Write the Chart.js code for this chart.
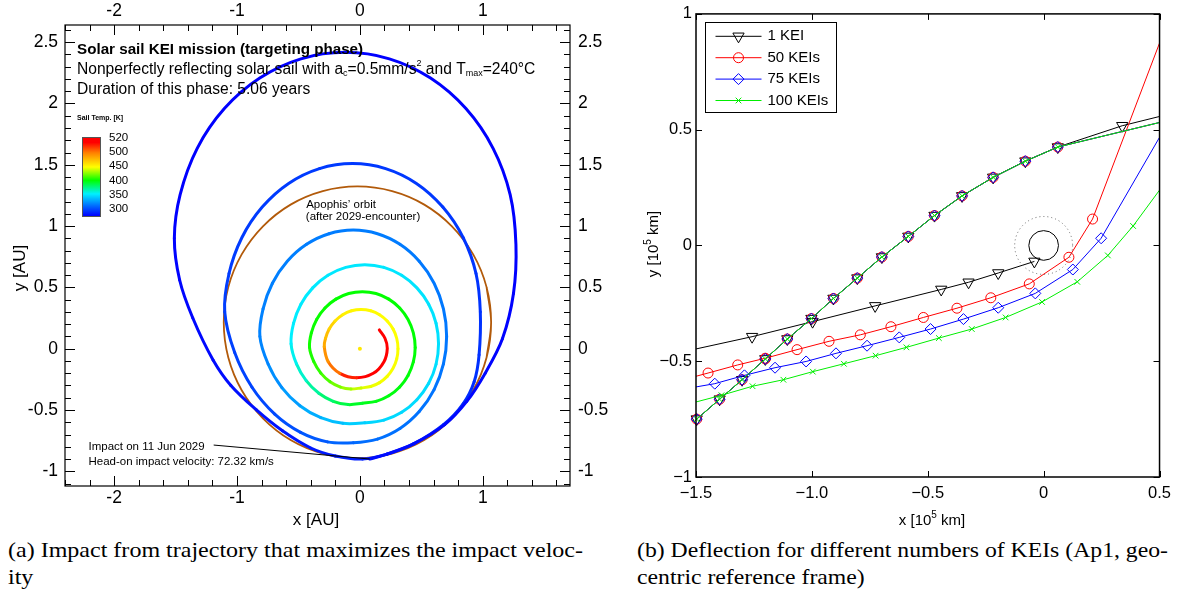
<!DOCTYPE html>
<html>
<head>
<meta charset="utf-8">
<script src="https://cdn.jsdelivr.net/npm/chart.js@4.4.1/dist/chart.umd.min.js"></script>
<style>
  html, body { margin: 0; padding: 0; background: #fff; }
  body { width: 1178px; height: 593px; position: relative; overflow: hidden; }
  .panel { position: absolute; top: 0; }
  #sailWrap { left: 0; }
  #deflWrap { left: 640px; }
  .caption { position: absolute; font-family: 'Liberation Serif', 'Times New Roman', serif; font-size: 21px; line-height: 27px; color: #000; white-space: nowrap; transform-origin: 0 0; }
</style>
</head>
<body>
<div class="panel" id="sailWrap"><canvas id="sailChart" width="610" height="535"></canvas></div>
<div class="panel" id="deflWrap"><canvas id="deflChart" width="538" height="535"></canvas></div>
<div class="caption" data-w="575" style="left:8px; top:537px;"><span>(a) Impact from trajectory that maximizes the impact veloc-</span><br>ity</div>
<div class="caption" data-w="531" style="left:637px; top:537px;"><span>(b) Deflection for different numbers of KEIs (Ap1, geo-</span><br>centric reference frame)</div>
<script>
const FONT = "'Liberation Sans', Arial, Helvetica, sans-serif";

// ---- (a) targeting phase trajectory [AU] and sail temperature [K] ----
// red start, then yellow, green, cyan, light blue, blue loops and the final arc to impact
const trajX = [0.158, 0.204, 0.223, 0.196, 0.109, -0.027, -0.163, -0.258, -0.29,
  -0.28, -0.25, -0.202, -0.14, -0.068, 0.01, 0.088, 0.16, 0.222, 0.27, 0.30, 0.31, 0.30, 0.27, 0.222, 0.16, 0.088, 0.01,
  -0.072, -0.158, -0.243, -0.318, -0.376,
  -0.41, -0.395, -0.352, -0.284, -0.195, -0.091, 0.02, 0.131, 0.235, 0.324, 0.392, 0.435, 0.45, 0.435, 0.392, 0.324, 0.235, 0.131, 0.02,
  -0.095, -0.217, -0.334, -0.437, -0.516,
  -0.56, -0.54, -0.48, -0.384, -0.26, -0.115, 0.04, 0.195, 0.34, 0.464, 0.56, 0.62, 0.64, 0.62, 0.56, 0.464, 0.34, 0.195, 0.04,
  -0.138, -0.318, -0.488, -0.635, -0.747,
  -0.814, -0.788, -0.712, -0.591, -0.434, -0.251, -0.054, 0.143, 0.326, 0.483, 0.604, 0.68, 0.706, 0.68, 0.604, 0.483, 0.326, 0.143, -0.054,
  -0.264, -0.483, -0.693, -0.878, -1.019,
  -1.10, -1.065, -0.961, -0.795, -0.58, -0.329, -0.06, 0.209, 0.46, 0.675, 0.841, 0.945, 0.98,
  0.97, 0.93, 0.84, 0.68, 0.44, 0.22, 0.02,
  -0.2, -0.4, -0.63, -0.842, -1.05, -1.195, -1.36, -1.467, -1.51, -1.463, -1.324, -1.103, -0.815, -0.48, -0.12,
  0.24, 0.575, 0.863, 1.084, 1.223, 1.27, 1.25, 1.16, 1.02, 0.87, 0.69, 0.44, 0.22, 0.08];
const trajY = [0.153, 0.085, 0.003, -0.106, -0.201, -0.237, -0.201, -0.106, 0.016,
  0.083, 0.16, 0.226, 0.277, 0.309, 0.32, 0.309, 0.277, 0.226, 0.16, 0.083, 0.0, -0.083, -0.16, -0.226, -0.277, -0.309, -0.32,
  -0.329, -0.313, -0.269, -0.199, -0.104,
  0.01, 0.128, 0.238, 0.332, 0.404, 0.45, 0.465, 0.45, 0.404, 0.332, 0.238, 0.128, 0.01, -0.108, -0.218, -0.312, -0.384, -0.43, -0.445,
  -0.456, -0.429, -0.364, -0.261, -0.124,
  0.04, 0.207, 0.3625, 0.496, 0.599, 0.663, 0.685, 0.663, 0.599, 0.496, 0.3625, 0.207, 0.04, -0.127, -0.2825, -0.416, -0.519, -0.583, -0.605,
  -0.609, -0.563, -0.465, -0.317, -0.125,
  0.1, 0.3245, 0.5335, 0.713, 0.851, 0.9375, 0.967, 0.9375, 0.851, 0.713, 0.5335, 0.3245, 0.1, -0.1245, -0.3335, -0.513, -0.651, -0.7375, -0.767,
  -0.76, -0.683, -0.534, -0.315, -0.032,
  0.30, 0.613, 0.905, 1.155, 1.348, 1.469, 1.51, 1.469, 1.348, 1.155, 0.905, 0.613, 0.30,
  -0.05, -0.27, -0.45, -0.62, -0.775, -0.86, -0.90,
  -0.875, -0.81, -0.67, -0.50, -0.30, -0.092, 0.25, 0.56, 0.90, 1.256, 1.634, 1.958, 2.207, 2.364, 2.417,
  2.364, 2.207, 1.958, 1.634, 1.256, 0.85, 0.45, 0.08, -0.20, -0.43, -0.62, -0.775, -0.86, -0.90];
const trajT = [520, 520, 519, 518, 516, 513, 505, 495, 484,
  475, 468, 460, 454, 450, 449, 448, 447, 447, 446, 446, 446, 445, 445, 445, 444, 443, 440,
  432, 424, 417, 410, 406,
  403, 402, 401, 401, 400, 400, 400, 400, 400, 399, 399, 399, 399, 398, 398, 397, 397, 396, 395,
  390, 383, 375, 366, 358,
  353, 352, 351, 351, 350, 350, 350, 350, 349, 349, 349, 348, 348, 347, 347, 346, 346, 345, 344,
  340, 334, 329, 324, 320,
  318, 318, 317, 317, 317, 316, 316, 316, 316, 315, 315, 315, 315, 314, 314, 313, 313, 312, 311,
  307, 303, 300, 298, 297,
  296, 295, 295, 295, 295, 295, 294, 294, 294, 294, 293, 293, 292,
  292, 291, 290, 289, 288, 287, 286,
  285, 284, 282, 281, 280, 279, 278, 277, 276, 275, 275, 275, 275, 275, 275,
  275, 275, 275, 275, 275, 275, 276, 276, 277, 278, 278, 279, 279, 280];

// Apophis' orbit after the 2029 encounter [AU] (ends overlap to close smoothly)
const orbitX = [1.031, 1.068, 1.031, 0.922, 0.749, 0.524, 0.262, -0.02, -0.302, -0.564, -0.789, -0.962, -1.071, -1.108,
  -1.071, -0.962, -0.789, -0.564, -0.302, -0.02, 0.262, 0.524, 0.749, 0.922, 1.031, 1.068, 1.031];
const orbitY = [-0.072, 0.215, 0.502, 0.769, 0.998, 1.175, 1.285, 1.323, 1.285, 1.175, 0.998, 0.769, 0.502, 0.215,
  -0.072, -0.339, -0.568, -0.745, -0.855, -0.893, -0.855, -0.745, -0.568, -0.339, -0.072, 0.215, 0.502];
const sunX = [0];
const sunY = [0];
const leaderX = [-1.19, 0.08];
const leaderY = [-0.786, -0.90];
const auXTicks = [-2, -1, 0, 1];
const auYTicks = [-1, -0.5, 0, 0.5, 1, 1.5, 2, 2.5];
const tempTicks = [520, 500, 450, 400, 350, 300];

// ---- (b) deflection, geocentric frame [10^5 km] ----
const keiNames = ['1 KEI', '50 KEIs', '75 KEIs', '100 KEIs'];
const approachX = [-1.497, -1.398, -1.301, -1.201, -1.106, -1.002, -0.907, -0.804, -0.698, -0.584, -0.471, -0.352, -0.218, -0.079, 0.061];
const approachY = [-0.750, -0.664, -0.580, -0.490, -0.404, -0.316, -0.229, -0.141, -0.050, 0.039, 0.129, 0.214, 0.294, 0.364, 0.425];
const kei1OutX = [0.339, 0.5];
const kei1OutY = [0.517, 0.557];
const keiOutX = [0.5];
const keiOutY = [0.531];
const kei1LowX = [-1.5, -1.258, -0.997, -0.727, -0.442, -0.324, -0.196, -0.040];
const kei1LowY = [-0.447, -0.394, -0.329, -0.261, -0.190, -0.159, -0.119, -0.069];
const kei50LowX = [-1.5, -1.448, -1.320, -1.201, -1.064, -0.926, -0.791, -0.659, -0.519, -0.374, -0.228, -0.062, 0.109, 0.211, 0.5];
const kei50LowY = [-0.565, -0.551, -0.516, -0.487, -0.450, -0.414, -0.386, -0.351, -0.311, -0.271, -0.226, -0.166, -0.051, 0.114, 0.874];
const kei75LowX = [-1.5, -1.419, -1.291, -1.159, -1.025, -0.896, -0.762, -0.623, -0.488, -0.346, -0.196, -0.036, 0.126, 0.248, 0.5];
const kei75LowY = [-0.611, -0.597, -0.561, -0.528, -0.501, -0.466, -0.433, -0.397, -0.361, -0.318, -0.269, -0.207, -0.104, 0.031, 0.467];
const kei100LowX = [-1.5, -1.390, -1.256, -1.123, -0.996, -0.862, -0.725, -0.592, -0.452, -0.310, -0.164, -0.007, 0.145, 0.277, 0.386, 0.5];
const kei100LowY = [-0.676, -0.647, -0.608, -0.580, -0.545, -0.511, -0.476, -0.440, -0.400, -0.361, -0.311, -0.244, -0.157, -0.043, 0.084, 0.239];
const kmXTicks = [-1.5, -1, -0.5, 0, 0.5];
const kmXLabels = ['\u22121.5', '\u22121.0', '\u22120.5', '0', '0.5'];
const kmYTicks = [-1, -0.5, 0, 0.5, 1];
const kmYLabels = ['\u22121', '\u22120.5', '0', '0.5', '1'];
const earthR = 0.064;
const haloR = 0.125;

// colour bar: labels are evenly spaced, jet-like map
const barStops = [[0, [0, 0, 255]], [0.12, [0, 100, 255]], [0.28, [0, 240, 255]], [0.45, [0, 255, 0]],
  [0.62, [255, 255, 0]], [0.80, [255, 128, 0]], [0.93, [255, 0, 0]], [1, [255, 0, 0]]];

function tempFrac(T) {
  const lab = [300, 350, 400, 450, 500, 520];
  const f0 = 0.089, step = 0.1814;
  if (T <= 350) return Math.max(0, f0 + (T - 300) / 50 * step);
  for (let i = 1; i < lab.length - 1; i++) {
    if (T <= lab[i + 1]) return f0 + step * (i + (T - lab[i]) / (lab[i + 1] - lab[i]));
  }
  return 1;
}
function fracColor(f) {
  for (let i = 1; i < barStops.length; i++) {
    const [f1, c1] = barStops[i];
    const [f0, c0] = barStops[i - 1];
    if (f <= f1) {
      const t = (f - f0) / (f1 - f0);
      const c = c0.map((v, k) => Math.round(v + (c1[k] - v) * t));
      return `rgb(${c[0]},${c[1]},${c[2]})`;
    }
  }
  return 'rgb(255,0,0)';
}
const tempColor = T => fracColor(tempFrac(T));

const pts = (xs, ys) => xs.map((v, i) => ({ x: v, y: ys[i] }));

// inward ticks + frame on all four sides
const frameTicks = {
  id: 'frameTicks',
  afterDatasetsDraw(chart, args, o) {
    const { ctx, chartArea: a, scales } = chart;
    const xs = scales.x, ys = scales.y;
    ctx.save();
    ctx.strokeStyle = '#000';
    ctx.lineWidth = 1;
    ctx.beginPath();
    const xt = (v, len) => {
      const p = Math.round(xs.getPixelForValue(v)) + 0.5;
      ctx.moveTo(p, a.bottom); ctx.lineTo(p, a.bottom - len);
      ctx.moveTo(p, a.top); ctx.lineTo(p, a.top + len);
    };
    const yt = (v, len) => {
      const p = Math.round(ys.getPixelForValue(v)) + 0.5;
      ctx.moveTo(a.left, p); ctx.lineTo(a.left + len, p);
      ctx.moveTo(a.right, p); ctx.lineTo(a.right - len, p);
    };
    o.xMinor.forEach(v => xt(v, o.minorLen));
    o.xMajor.forEach(v => xt(v, o.majorLen));
    o.yMinor.forEach(v => yt(v, o.minorLen));
    o.yMajor.forEach(v => yt(v, o.majorLen));
    ctx.stroke();
    ctx.lineWidth = o.frameWidth;
    ctx.strokeRect(a.left, a.top, a.width, a.height);
    ctx.restore();
  }
};

function richText(ctx, parts, x, y, size, align) {
  let w = 0;
  parts.forEach(p => { ctx.font = `${p.bold ? 'bold ' : ''}${p.s || size}px ${FONT}`; w += ctx.measureText(p.t).width; });
  let cx = align === 'center' ? x - w / 2 : x;
  ctx.textAlign = 'left';
  parts.forEach(p => {
    ctx.font = `${p.bold ? 'bold ' : ''}${p.s || size}px ${FONT}`;
    ctx.fillText(p.t, cx, y + (p.dy || 0));
    cx += ctx.measureText(p.t).width;
  });
}

const sailNotes = {
  id: 'sailNotes',
  afterDatasetsDraw(chart) {
    const { ctx, chartArea: a, scales: { x, y } } = chart;
    ctx.save();
    ctx.fillStyle = '#000';
    ctx.textBaseline = 'middle';
    richText(ctx, [{ t: 'Solar sail KEI mission (targeting phase)', bold: true }], a.left + 12, a.top + 25, 15.2);
    richText(ctx, [
      { t: 'Nonperfectly reflecting solar sail with a' }, { t: 'c', s: 9, dy: 4 },
      { t: '=0.5mm/s' }, { t: '2', s: 9, dy: -6 }, { t: ' and T' }, { t: 'max', s: 9, dy: 4 },
      { t: '=240\u00B0C' }], a.left + 12, a.top + 45, 15.6);
    richText(ctx, [{ t: 'Duration of this phase: 5.06 years' }], a.left + 12, a.top + 64.5, 15.6);

    // colour bar
    const bx = a.left + 17, by = a.top + 112, bw = 18, bh = 79;
    const g = ctx.createLinearGradient(0, by + bh, 0, by);
    barStops.forEach(([f, c]) => g.addColorStop(f, `rgb(${c[0]},${c[1]},${c[2]})`));
    ctx.fillStyle = g;
    ctx.fillRect(bx, by, bw, bh);
    ctx.strokeStyle = '#555';
    ctx.lineWidth = 1;
    ctx.strokeRect(bx + 0.5, by + 0.5, bw, bh);
    ctx.fillStyle = '#000';
    ctx.font = `bold 7px ${FONT}`;
    ctx.fillText('Sail Temp. [K]', a.left + 12, a.top + 93.5);
    ctx.font = `11.5px ${FONT}`;
    tempTicks.forEach((t, i) => ctx.fillText(String(t), a.left + 44, by + 0.5 + i * 14.35));

    // orbit and impact notes
    ctx.font = `11.5px ${FONT}`;
    ctx.fillText('Apophis\u2019 orbit', x.getPixelForValue(-0.437), y.getPixelForValue(1.172));
    ctx.fillText('(after 2029-encounter)', x.getPixelForValue(-0.44), y.getPixelForValue(1.073));
    ctx.fillText('Impact on 11 Jun 2029', x.getPixelForValue(-2.209), y.getPixelForValue(-0.802));
    ctx.fillText('Head-on impact velocity: 72.32 km/s', x.getPixelForValue(-2.209), y.getPixelForValue(-0.925));

    // axis titles
    ctx.font = `17px ${FONT}`;
    ctx.textAlign = 'center';
    ctx.fillText('x [AU]', 316, 520);
    ctx.translate(20, 268);
    ctx.rotate(-Math.PI / 2);
    ctx.fillText('y [AU]', 0, 0);
    ctx.restore();
  }
};

const fixSize = (prop, v) => s => { s[prop] = v; };
const auFont = { family: FONT, size: 17.5 };
const kmFont = { family: FONT, size: 16.5 };

const auXMinor = [], auYMinor = [];
for (let v = -24; v <= 17; v += 2) auXMinor.push(v / 10);
for (let v = -11; v <= 26; v++) auYMinor.push(v / 10);

new Chart(document.getElementById('sailChart'), {
  type: 'scatter',
  data: {
    datasets: [
      { data: pts(leaderX, leaderY), showLine: true, borderColor: '#000', borderWidth: 1, pointRadius: 0, order: 0 },
      { data: pts(sunX, sunY), pointRadius: 2, pointBackgroundColor: '#ffe800', pointBorderWidth: 0, order: 1 },
      { data: pts(trajX, trajY), showLine: true, borderWidth: 3, pointRadius: 0, tension: 0.34,
        borderCapStyle: 'round', borderJoinStyle: 'round', order: 2,
        segment: { borderColor: c => tempColor((trajT[c.p0DataIndex] + trajT[c.p1DataIndex]) / 2) } },
      { data: pts(orbitX, orbitY), showLine: true, borderColor: 'rgb(178,90,10)', borderWidth: 1.8,
        pointRadius: 0, tension: 0.34, order: 3 }
    ]
  },
  options: {
    responsive: false,
    animation: false,
    events: [],
    layout: { padding: 0 },
    plugins: {
      legend: { display: false },
      tooltip: { enabled: false },
      frameTicks: { xMajor: auXTicks, xMinor: auXMinor, yMajor: auYTicks, yMinor: auYMinor, majorLen: 10, minorLen: 6, frameWidth: 1.2 }
    },
    scales: {
      x: { type: 'linear', position: 'bottom', min: -2.4, max: 1.71,
        grid: { display: false, drawTicks: false }, border: { display: false },
        afterBuildTicks: s => { s.ticks = auXTicks.map(v => ({ value: v })); },
        afterFit: fixSize('height', 49),
        ticks: { font: auFont, color: '#000', padding: 2, maxRotation: 0, autoSkip: false } },
      xTop: { type: 'linear', position: 'top', min: -2.4, max: 1.71,
        grid: { display: false, drawTicks: false }, border: { display: false },
        afterBuildTicks: s => { s.ticks = auXTicks.map(v => ({ value: v })); },
        afterFit: fixSize('height', 25),
        ticks: { font: auFont, color: '#000', padding: 3, maxRotation: 0, autoSkip: false } },
      y: { type: 'linear', position: 'left', min: -1.12, max: 2.64,
        grid: { display: false, drawTicks: false }, border: { display: false },
        afterBuildTicks: s => { s.ticks = auYTicks.map(v => ({ value: v })); },
        afterFit: fixSize('width', 65),
        ticks: { font: auFont, color: '#000', padding: 7, autoSkip: false, callback: v => String(v) } },
      yRight: { type: 'linear', position: 'right', min: -1.12, max: 2.64,
        grid: { display: false, drawTicks: false }, border: { display: false },
        afterBuildTicks: s => { s.ticks = auYTicks.map(v => ({ value: v })); },
        afterFit: fixSize('width', 40),
        ticks: { font: auFont, color: '#000', padding: 8, autoSkip: false, callback: v => String(v) } }
    }
  },
  plugins: [frameTicks, sailNotes]
});

// ---- (b) ----
function keiSeries(outX, outY, outMark, lowX, lowY) {
  const data = [], marks = [];
  approachX.forEach((v, i) => { data.push({ x: v, y: approachY[i] }); marks.push(1); });
  outX.forEach((v, i) => { data.push({ x: v, y: outY[i] }); marks.push(outMark[i]); });
  data.push({ x: null, y: null }); marks.push(0);
  lowX.forEach((v, i) => { data.push({ x: v, y: lowY[i] }); marks.push(v > -1.5 && v < 0.5 ? 1 : 0); });
  return { data, marks };
}
const keiStyles = [
  { color: '#000', style: 'triangle', rot: 180, r: 6.5 },
  { color: '#ff0000', style: 'circle', rot: 0, r: 5 },
  { color: '#0000ff', style: 'rectRot', rot: 0, r: 5.5 },
  { color: '#00ee00', style: 'crossRot', rot: 0, r: 4 }
];
const keiData = [
  keiSeries(kei1OutX, kei1OutY, [1, 0], kei1LowX, kei1LowY),
  keiSeries(keiOutX, keiOutY, [0], kei50LowX, kei50LowY),
  keiSeries(keiOutX, keiOutY, [0], kei75LowX, kei75LowY),
  keiSeries(keiOutX, keiOutY, [0], kei100LowX, kei100LowY)
];

function drawMarker(ctx, st, x, y) {
  const r = st.r;
  ctx.beginPath();
  if (st.style === 'triangle') {
    ctx.moveTo(x, y + r); ctx.lineTo(x - r * 0.866, y - r / 2); ctx.lineTo(x + r * 0.866, y - r / 2); ctx.closePath();
  } else if (st.style === 'circle') {
    ctx.arc(x, y, r, 0, Math.PI * 2);
  } else if (st.style === 'rectRot') {
    ctx.moveTo(x, y - r); ctx.lineTo(x + r, y); ctx.lineTo(x, y + r); ctx.lineTo(x - r, y); ctx.closePath();
  } else {
    const d = r * 0.707;
    ctx.moveTo(x - d, y - d); ctx.lineTo(x + d, y + d); ctx.moveTo(x + d, y - d); ctx.lineTo(x - d, y + d);
  }
  ctx.stroke();
}

const earthMark = {
  id: 'earthMark',
  afterDatasetsDraw(chart) {
    const { ctx, scales: { x, y } } = chart;
    const cx = x.getPixelForValue(0), cy = y.getPixelForValue(0);
    const px = r => x.getPixelForValue(r) - cx;
    ctx.save();
    ctx.strokeStyle = '#000';
    ctx.lineWidth = 1;
    ctx.beginPath(); ctx.arc(cx, cy, px(earthR), 0, Math.PI * 2); ctx.stroke();
    ctx.strokeStyle = '#666';
    ctx.setLineDash([1, 3]);
    ctx.beginPath(); ctx.arc(cx, cy, px(haloR), 0, Math.PI * 2); ctx.stroke();
    ctx.restore();
  }
};

const keiLegend = {
  id: 'keiLegend',
  afterDraw(chart) {
    const { ctx, chartArea: a } = chart;
    const bx = Math.round(a.left + 9) + 0.5, by = Math.round(a.top + 8) + 0.5, bw = 131, bh = 90;
    ctx.save();
    ctx.fillStyle = '#fff';
    ctx.fillRect(bx, by, bw, bh);
    ctx.strokeStyle = '#000';
    ctx.lineWidth = 1;
    ctx.strokeRect(bx, by, bw, bh);
    ctx.textBaseline = 'middle';
    ctx.font = `15px ${FONT}`;
    keiStyles.forEach((st, i) => {
      const yy = by + 13.8 + i * 21.4;
      ctx.strokeStyle = st.color;
      ctx.beginPath(); ctx.moveTo(bx + 10, yy); ctx.lineTo(bx + 56, yy); ctx.stroke();
      drawMarker(ctx, st, bx + 33, yy);
      ctx.fillStyle = '#000';
      ctx.fillText(keiNames[i], bx + 62, yy);
    });
    // axis titles with superscript
    ctx.fillStyle = '#000';
    ctx.textBaseline = 'middle';
    const title = l => [{ t: l + ' [10' }, { t: '5', s: 10, dy: -6 }, { t: ' km]' }];
    richText(ctx, title('x'), 292, 521, 15, 'center');
    ctx.translate(14, 244);
    ctx.rotate(-Math.PI / 2);
    richText(ctx, title('y'), 0, 0, 15, 'center');
    ctx.restore();
  }
};

new Chart(document.getElementById('deflChart'), {
  type: 'scatter',
  data: {
    datasets: keiData.map((s, i) => ({
      label: keiNames[i],
      data: s.data,
      order: 3 - i,
      showLine: true,
      spanGaps: false,
      clip: false,
      borderColor: keiStyles[i].color,
      borderWidth: 1,
      pointStyle: keiStyles[i].style,
      rotation: keiStyles[i].rot,
      pointRadius: c => s.marks[c.dataIndex] ? keiStyles[i].r : 0,
      pointBorderColor: keiStyles[i].color,
      pointBackgroundColor: 'rgba(0,0,0,0)',
      pointBorderWidth: 1
    }))
  },
  options: {
    responsive: false,
    animation: false,
    events: [],
    layout: { padding: { top: 11, right: 13, left: 0, bottom: 0 } },
    plugins: {
      legend: { display: false },
      tooltip: { enabled: false },
      frameTicks: { xMajor: kmXTicks, xMinor: [], yMajor: kmYTicks, yMinor: [], majorLen: 6, minorLen: 0, frameWidth: 1.5 }
    },
    scales: {
      x: { type: 'linear', position: 'bottom', min: -1.5, max: 0.5,
        grid: { display: false, drawTicks: false }, border: { display: false },
        afterBuildTicks: s => { s.ticks = kmXTicks.map(v => ({ value: v })); },
        afterFit: fixSize('height', 58),
        ticks: { font: kmFont, color: '#000', padding: 7, maxRotation: 0, autoSkip: false,
          callback: (v, i) => kmXLabels[i] } },
      y: { type: 'linear', position: 'left', min: -1, max: 1,
        grid: { display: false, drawTicks: false }, border: { display: false },
        afterBuildTicks: s => { s.ticks = kmYTicks.map(v => ({ value: v })); },
        afterFit: fixSize('width', 56),
        ticks: { font: kmFont, color: '#000', padding: 4, autoSkip: false,
          callback: (v, i) => kmYLabels[i] } }
    }
  },
  plugins: [earthMark, frameTicks, keiLegend]
});

// widen captions so the first line spans the same width as the original
const measure = document.createElement('canvas').getContext('2d');
measure.font = "21px 'Liberation Serif'";
document.querySelectorAll('.caption').forEach(el => {
  const w = measure.measureText(el.querySelector('span').textContent).width;
  el.style.transform = `scaleX(${(+el.dataset.w / w).toFixed(4)})`;
});
</script>
</body>
</html>
